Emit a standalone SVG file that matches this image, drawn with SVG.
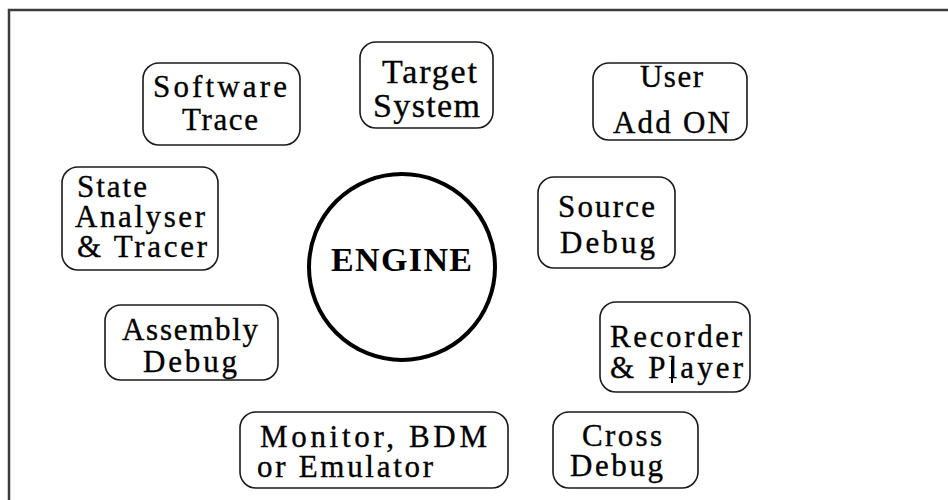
<svg xmlns="http://www.w3.org/2000/svg" width="948" height="500" viewBox="0 0 948 500">
<style>
.box{fill:none;stroke:#1a1a1a;stroke-width:1.6}
.t{font-family:"Liberation Serif","Times New Roman",serif;font-size:31px;fill:#000;stroke:#000;stroke-width:0.35}
.big{font-size:34px}
.eng{font-family:"Liberation Serif","Times New Roman",serif;font-size:34px;font-weight:bold;fill:#000}
</style>
<rect width="948" height="500" fill="#fff"/>
<path d="M9 500 V10 H948" fill="none" stroke="#3c3c3c" stroke-width="2.5"/>
<g id="engine">
<circle cx="402" cy="267" r="93" fill="none" stroke="#000" stroke-width="4"/>
<text class="eng" x="331" y="271" textLength="141" lengthAdjust="spacing">ENGINE</text>
</g>
<g id="software-trace">
<rect class="box" x="143" y="63" width="157" height="82" rx="16"/>
<text class="t" x="153" y="97" textLength="134" lengthAdjust="spacing">Software</text>
<text class="t" x="182" y="130" textLength="76" lengthAdjust="spacing">Trace</text>
</g>
<g id="target-system">
<rect class="box" x="360" y="42" width="133" height="86" rx="16"/>
<text class="t big" x="382" y="83" textLength="95" lengthAdjust="spacing">Target</text>
<text class="t big" x="373" y="117" textLength="107" lengthAdjust="spacing">System</text>
</g>
<g id="user-add-on">
<rect class="box" x="593" y="63" width="154" height="77" rx="16"/>
<text class="t" x="640" y="87" textLength="63" lengthAdjust="spacing">User</text>
<text class="t" x="613" y="133" textLength="117" lengthAdjust="spacing">Add ON</text>
</g>
<g id="state-analyser">
<rect class="box" x="62" y="167" width="156" height="103" rx="16"/>
<text class="t" x="77" y="197" textLength="70" lengthAdjust="spacing">State</text>
<text class="t" x="75" y="227" textLength="130" lengthAdjust="spacing">Analyser</text>
<text class="t" x="77" y="257" textLength="130" lengthAdjust="spacing">&amp; Tracer</text>
</g>
<g id="source-debug">
<rect class="box" x="538" y="177" width="137" height="91" rx="16"/>
<text class="t" x="558" y="217" textLength="97" lengthAdjust="spacing">Source</text>
<text class="t" x="560" y="253" textLength="95" lengthAdjust="spacing">Debug</text>
</g>
<g id="recorder-player">
<rect class="box" x="600" y="302" width="150" height="90" rx="16"/>
<text class="t" x="610" y="347" textLength="132" lengthAdjust="spacing">Recorder</text>
<text class="t" x="610" y="378" textLength="133" lengthAdjust="spacing">&amp; Player</text>
<line x1="672" y1="360" x2="672" y2="383" stroke="#000" stroke-width="2"/>
</g>
<g id="assembly-debug">
<rect class="box" x="105" y="305" width="173" height="75" rx="16"/>
<text class="t" x="122" y="340" textLength="136" lengthAdjust="spacing">Assembly</text>
<text class="t" x="143" y="372" textLength="94" lengthAdjust="spacing">Debug</text>
</g>
<g id="monitor-bdm">
<rect class="box" x="240" y="412" width="268" height="76" rx="16"/>
<text class="t" x="260" y="447" textLength="227" lengthAdjust="spacing">Monitor, BDM</text>
<text class="t" x="257" y="477" textLength="176" lengthAdjust="spacing">or Emulator</text>
</g>
<g id="cross-debug">
<rect class="box" x="553" y="412" width="145" height="76" rx="16"/>
<text class="t" x="582" y="446" textLength="80" lengthAdjust="spacing">Cross</text>
<text class="t" x="570" y="476" textLength="93" lengthAdjust="spacing">Debug</text>
</g>
<g id="connectors"></g>
</svg>
